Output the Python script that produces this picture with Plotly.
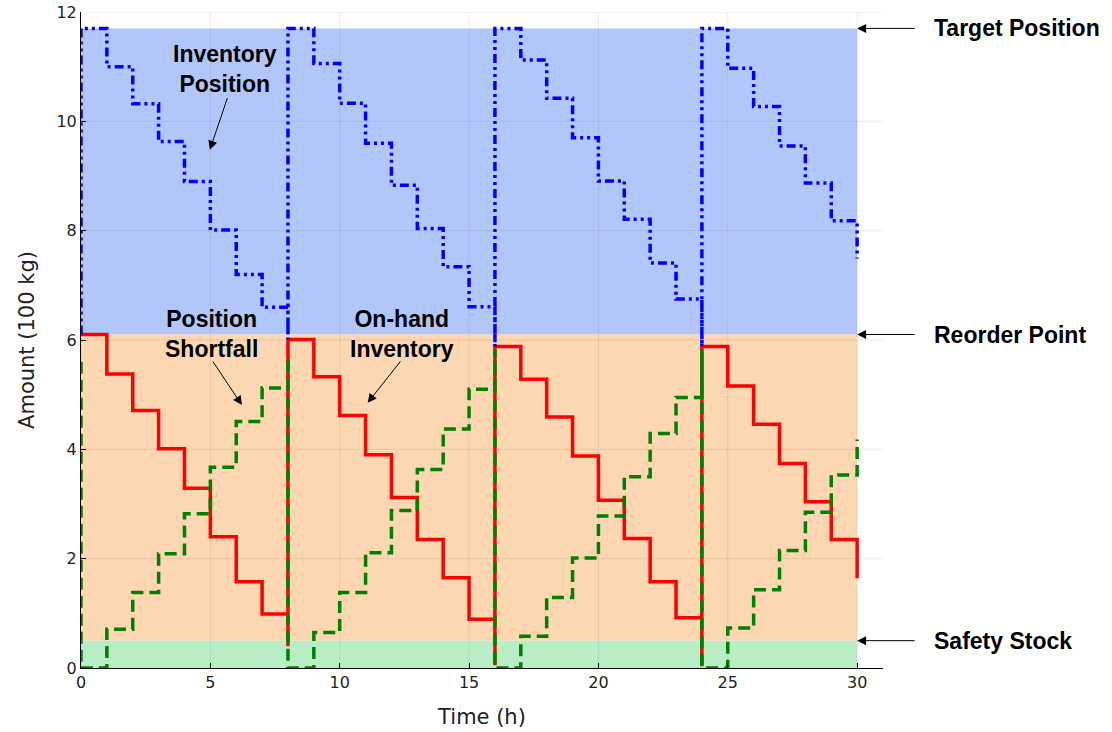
import plotly.graph_objects as go

# ---- data ----
target_position = 11.7
reorder_point = 6.1
safety_stock = 0.5
horizon = 30

ip_time = [0, 0, 1, 2, 3, 4, 5, 6, 7, 8, 8, 9, 10, 11, 12, 13, 14, 15, 16, 16,
           17, 18, 19, 20, 21, 22, 23, 24, 24, 25, 26, 27, 28, 29, 30]
inventory_position = [6.1, 11.7, 11.0, 10.32, 9.63, 8.9, 8.01, 7.2, 6.6, 6.01, 11.7,
                      11.06, 10.33, 9.6, 8.83, 8.04, 7.34, 6.61, 5.88, 11.7,
                      11.12, 10.42, 9.7, 8.91, 8.21, 7.41, 6.75, 5.88, 11.7,
                      10.97, 10.27, 9.55, 8.87, 8.18, 7.49]

oh_time = [0, 1, 2, 3, 4, 5, 6, 7, 8, 8, 9, 10, 11, 12, 13, 14, 15, 16, 16,
           17, 18, 19, 20, 21, 22, 23, 24, 24, 25, 26, 27, 28, 29, 30]
on_hand = [6.1, 5.38, 4.71, 4.01, 3.29, 2.4, 1.58, 0.99, 0.4, 6.01,
           5.33, 4.62, 3.9, 3.12, 2.35, 1.65, 0.89, 0.05, 5.88,
           5.28, 4.59, 3.88, 3.07, 2.37, 1.58, 0.92, 0.05, 5.88,
           5.16, 4.46, 3.74, 3.04, 2.35, 1.64]

ps_time = [0, 0, 1, 2, 3, 4, 5, 6, 7, 8, 8, 9, 10, 11, 12, 13, 14, 15, 16, 16,
           17, 18, 19, 20, 21, 22, 23, 24, 24, 25, 26, 27, 28, 29, 30]
position_shortfall = [5.6, 0, 0.71, 1.38, 2.09, 2.82, 3.67, 4.51, 5.12, 5.69, 0,
                      0.65, 1.38, 2.11, 2.88, 3.63, 4.37, 5.1, 5.82, 0,
                      0.58, 1.29, 2.01, 2.78, 3.5, 4.29, 4.95, 5.82, 0,
                      0.73, 1.43, 2.15, 2.85, 3.53, 4.18]

x_ticks = [0, 5, 10, 15, 20, 25, 30]
y_ticks = [0, 2, 4, 6, 8, 10, 12]

fig = go.Figure()

# bands
shapes = [
    dict(type="rect", xref="x", yref="y", x0=0, x1=horizon, y0=reorder_point, y1=target_position,
         fillcolor="#b3c6fa", line_width=0, layer="below"),
    dict(type="rect", xref="x", yref="y", x0=0, x1=horizon, y0=safety_stock, y1=reorder_point,
         fillcolor="#fdd6b2", line_width=0, layer="below"),
    dict(type="rect", xref="x", yref="y", x0=0, x1=horizon, y0=0, y1=safety_stock,
         fillcolor="#b9edc6", line_width=0, layer="below"),
]
# grid lines drawn over the bands
for xv in x_ticks[1:]:
    shapes.append(dict(type="line", xref="x", yref="y", x0=xv, x1=xv, y0=0, y1=12,
                       line=dict(color="rgba(0,0,0,0.07)", width=1), layer="below"))
for yv in y_ticks[1:]:
    shapes.append(dict(type="line", xref="x", yref="y", x0=0, x1=31, y0=yv, y1=yv,
                       line=dict(color="rgba(0,0,0,0.07)", width=1), layer="below"))

fig.add_trace(go.Scatter(x=oh_time, y=on_hand, mode="lines", line_shape="hv",
                         line=dict(color="#ff0000", width=3.5), name="On-hand", showlegend=False))
fig.add_trace(go.Scatter(x=ps_time, y=position_shortfall, mode="lines", line_shape="hv",
                         line=dict(color="#008000", width=3.5, dash="12px,6px"),
                         name="Shortfall", showlegend=False))
fig.add_trace(go.Scatter(x=ip_time, y=inventory_position, mode="lines", line_shape="hv",
                         line=dict(color="#0000ff", width=3.5, dash="9px,4px,3px,4px,3px,4px"),
                         name="Position", showlegend=False))

bold = dict(family="Liberation Sans", size=23, color="black")
arrow = dict(showarrow=True, arrowhead=2, arrowsize=1.8, arrowwidth=1, arrowcolor="black", text="")
annotations = [
    dict(x=5.56, y=10.96, xref="x", yref="y", text="<b>Inventory<br>Position</b>", showarrow=False, font=bold),
    dict(x=5.06, y=6.11, xref="x", yref="y", text="<b>Position<br>Shortfall</b>", showarrow=False, font=bold),
    dict(x=12.39, y=6.11, xref="x", yref="y", text="<b>On-hand<br>Inventory</b>", showarrow=False, font=bold),
    # pointer arrows
    dict(x=4.98, y=9.48, xref="x", yref="y", ax=18, ay=-53, **arrow),
    dict(x=6.22, y=4.81, xref="x", yref="y", ax=-30, ay=-45, **arrow),
    dict(x=11.08, y=4.85, xref="x", yref="y", ax=34, ay=-43, **arrow),
]
for level, label in [(target_position, "Target Position"), (reorder_point, "Reorder Point"),
                     (safety_stock, "Safety Stock")]:
    annotations.append(dict(x=horizon, y=level, xref="x", yref="y", ax=59, ay=0, **arrow))
    annotations.append(dict(x=1.061, y=level, xref="paper", yref="y", text="<b>" + label + "</b>",
                            showarrow=False, xanchor="left", font=bold))

axis_common = dict(showgrid=False, zeroline=False, showline=True, linecolor="black", linewidth=1,
                   ticks="inside", ticklen=5, tickcolor="black", automargin=False,
                   ticklabeloverflow="allow",
                   tickfont=dict(family="DejaVu Sans", size=16, color="#222"))

fig.update_layout(
    width=1112, height=732,
    margin=dict(l=81, r=229, t=12, b=64),
    paper_bgcolor="white", plot_bgcolor="white",
    shapes=shapes, annotations=annotations,
    xaxis=dict(range=[0, 31], tickvals=x_ticks, ticktext=[str(v) for v in x_ticks],
               title=dict(text="Time (h)", font=dict(family="DejaVu Sans", size=21, color="#222"),
                          standoff=18), **axis_common),
    yaxis=dict(range=[0, 12], tickvals=y_ticks, ticktext=[str(v) for v in y_ticks],
               title=dict(text="Amount (100 kg)", font=dict(family="DejaVu Sans", size=21, color="#222"),
                          standoff=16), **axis_common),
)

# remove the default page margin so the figure sits at the window's top-left corner
fig.write_html("out.html", config={"displayModeBar": False},
               post_script="document.body.style.margin='0px';")
